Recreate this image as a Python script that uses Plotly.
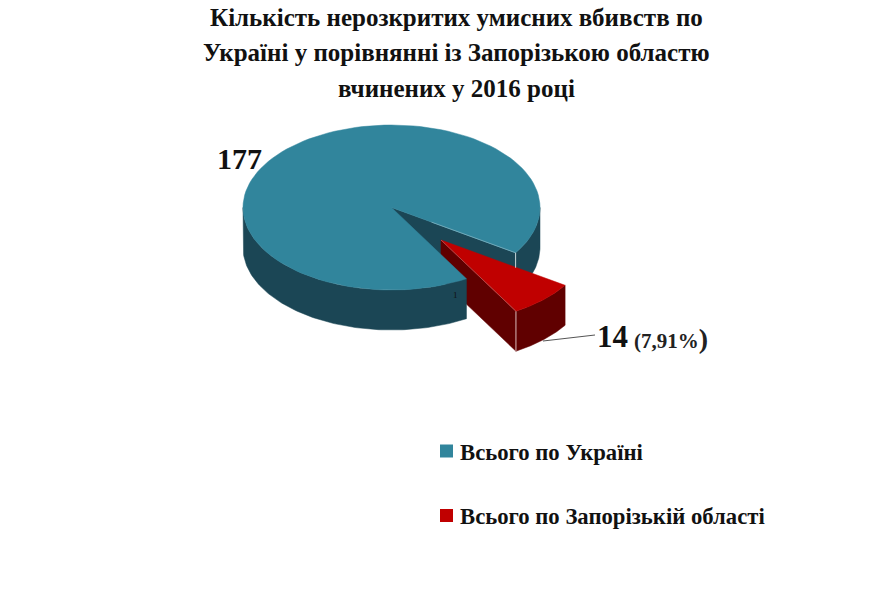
import numpy as np
import plotly.graph_objects as go

# data
categories = ['Всього по Україні', 'Всього по Запорізькій області']
values = [177, 14]
value_labels = ['177', '14']
share_label = '(7,91%'
title_lines = ['Кількість нерозкритих умисних вбивств по',
               'Україні у порівнянні із Запорізькою областю',
               'вчинених у 2016 році']

BLUE = '#31859c'
BLUE_DARK = '#1b4655'
RED = '#c00000'
RED_DARK = '#600000'
SERIF = 'Liberation Serif'

# pie geometry in page pixels, y goes down
cx, cy = 391.5, 207.5
rx, ry = 148.5, 82.5
depth = 40
explode_x, explode_y = 49.5, 32.5
start = 33.3  # degrees, clockwise on screen from 3 o'clock

# slice angles come from the values
sweep = values[1] / sum(values) * 360
a0 = np.radians(start)
a1 = np.radians(start + sweep)


def arc(t0, t1, ox=0.0, oy=0.0, n=120):
    t = np.linspace(t0, t1, n)
    return cx + ox + rx * np.cos(t), cy + oy + ry * np.sin(t)


def top(t0, t1, ox=0.0, oy=0.0):
    x, y = arc(t0, t1, ox, oy)
    return np.r_[cx + ox, x, cx + ox], np.r_[cy + oy, y, cy + oy]


def wall(t0, t1, ox=0.0, oy=0.0):
    # outer rim band between two angles
    x, y = arc(t0, t1, ox, oy)
    return np.r_[x, x[::-1], x[0]], np.r_[y, y[::-1] + depth, y[0]]


def cut(t, ox=0.0, oy=0.0):
    # flat wall from the centre out to the rim
    ex, ey = cx + ox + rx * np.cos(t), cy + oy + ry * np.sin(t)
    px, py = cx + ox, cy + oy
    return [px, ex, ex, px, px], [py, ey, ey + depth, py + depth, py]


def poly(fig, xy, color):
    fig.add_trace(go.Scatter(x=xy[0], y=xy[1], mode='lines', fill='toself', fillcolor=color,
                             line=dict(color=color, width=0.5), hoverinfo='skip', showlegend=False))


fig = go.Figure()

# painter's order, back to front
poly(fig, cut(a0), BLUE_DARK)
poly(fig, cut(a1, explode_x, explode_y), RED_DARK)
poly(fig, wall(0, a0), BLUE_DARK)
poly(fig, wall(a1, np.pi), BLUE_DARK)
poly(fig, top(a1, a0 + 2 * np.pi), BLUE)
poly(fig, wall(a0, a1, explode_x, explode_y), RED_DARK)
poly(fig, top(a0, a1, explode_x, explode_y), RED)

# thin light edges
ex0, ey0 = cx + rx * np.cos(a0), cy + ry * np.sin(a0)
rx1, ry1 = cx + explode_x + rx * np.cos(a1), cy + explode_y + ry * np.sin(a1)
edges = [([cx + 40, ex0], [cy + 40 * (ey0 - cy) / (ex0 - cx), ey0], '#6fa8b8'),
         ([ex0, ex0], [ey0, ey0 + 15], '#c9d6da'),
         ([rx1, rx1], [ry1, ry1 + depth], '#d8b8b8'),
         ([cx + explode_x, rx1], [cy + explode_y, ry1], '#b84848')]
for ex, ey, col in edges:
    fig.add_trace(go.Scatter(x=ex, y=ey, mode='lines', line=dict(color=col, width=1),
                             hoverinfo='skip', showlegend=False))

# leader line of the small slice
fig.add_trace(go.Scatter(x=[543, 595], y=[341, 335], mode='lines', line=dict(color='#555555', width=1),
                         hoverinfo='skip', showlegend=False))

# legend swatches
for i, col in enumerate([BLUE, RED]):
    fig.add_trace(go.Scatter(x=[446.5], y=[451 + i * 64.5], mode='markers',
                             marker=dict(symbol='square', size=13, color=col), showlegend=False,
                             name=categories[i]))

ann = []
for i, line in enumerate(title_lines):
    ann.append(dict(x=456.5, y=17 + i * 35.5, text='<b>' + line + '</b>', showarrow=False,
                    font=dict(family=SERIF, size=25, color='#111111')))
ann.append(dict(x=239, y=158, text='<b>' + value_labels[0] + '</b>', showarrow=False,
                font=dict(family=SERIF, size=30, color='#111111')))
ann.append(dict(x=595, y=336, xanchor='left', text='<b>' + value_labels[1] + '</b>', showarrow=False,
                font=dict(family=SERIF, size=31, color='#111111')))
ann.append(dict(x=632, y=338, xanchor='left',
                text='<b>' + share_label + '<span style="font-size:28px">)</span></b>', showarrow=False,
                font=dict(family=SERIF, size=21, color='#222222')))
ann.append(dict(x=455, y=295, text='1', showarrow=False, font=dict(family=SERIF, size=9, color='#111111')))
for i, cat in enumerate(categories):
    ann.append(dict(x=458, y=452 + i * 64.5, xanchor='left', text='<b>' + cat + '</b>', showarrow=False,
                    font=dict(family=SERIF, size=22.7, color='#111111')))

fig.update_layout(width=869, height=593, margin=dict(l=0, r=0, t=0, b=0), autosize=False,
                  paper_bgcolor='white', plot_bgcolor='white', annotations=ann,
                  xaxis=dict(range=[0, 869], visible=False, fixedrange=True),
                  yaxis=dict(range=[593, 0], visible=False, fixedrange=True))

fig.write_html("out.html", config=dict(displayModeBar=False), post_script="document.body.style.margin='0';")
